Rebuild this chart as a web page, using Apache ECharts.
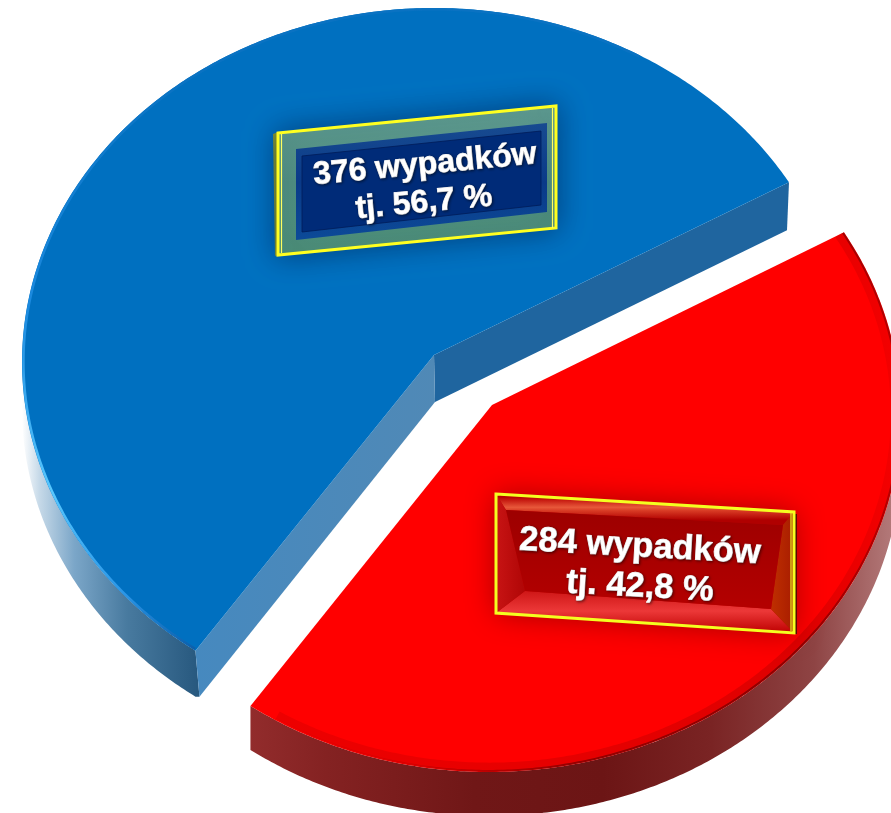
<!DOCTYPE html>
<html><head><meta charset="utf-8">
<style>html,body{margin:0;padding:0;background:#fff;overflow:hidden}#c{width:891px;height:813px}</style>
<script src="https://cdn.jsdelivr.net/npm/echarts@6/dist/echarts.min.js"></script>
</head><body><div id="c"></div>
<script>
// --- data ---
const categories = ['niebieski', 'czerwony'];
const accidents = [376, 284];
const percents = [56.7, 42.8];
const percentLabels = ['56,7', '42,8'];
const unit = 'wypadków';

// --- styling / projection of the tilted pie ---
const START_DEG = 30.5;
const RAD = Math.PI / 180;
const geo = [
  {cx: 434, cy: 362, rx: 412, ry: 354, ax: 434, ay: 355, depth: 46},
  {cx: 489, cy: 414, rx: 412, ry: 358, ax: 492, ay: 405, depth: 44}
];
const lin = (x, y, x2, y2, stops) => ({type: 'linear', x, y, x2, y2, global: true,
  colorStops: stops.map(s => ({offset: s[0], color: s[1]}))});

const ptsOn = (g, a0, a1, dy, k) => {
  const out = []; const n = Math.max(2, Math.ceil(Math.abs(a1 - a0) * 2));
  k = k === undefined ? 1 : k;
  for (let i = 0; i <= n; i++) {
    const a = (a0 + (a1 - a0) * i / n) * RAD;
    out.push([g.cx + g.rx * k * Math.cos(a), g.cy - g.ry * k * Math.sin(a) + (dy || 0)]);
  }
  return out;
};
const poly = (points, fill, extra) => ({type: 'polygon', shape: {points}, style: Object.assign({fill}, extra || {})});
const line = (points, stroke, lineWidth) => ({type: 'polyline', shape: {points}, style: {fill: null, stroke, lineWidth, lineJoin: 'round'}});
const txt = (text, x, y, deg, size) => ({type: 'text', x, y, rotation: deg * RAD, style: {
  text, x: 0, y: 0, align: 'center', verticalAlign: 'middle', fill: '#fff', stroke: '#fff', lineWidth: 0.9,
  font: 'bold ' + size + 'px "Liberation Sans", Arial, sans-serif',
  textShadowColor: 'rgba(0,0,0,0.5)', textShadowBlur: 3, textShadowOffsetX: 1, textShadowOffsetY: 1}});

function blueSlice(a0, a1, g, value, pct) {
  const corner0 = ptsOn(g, a0, a0)[0], corner1 = ptsOn(g, a1, a1)[0];
  const top = [[g.ax, g.ay]].concat(ptsOn(g, a0, a1));
  const d = g.depth;
  const wallTop = ptsOn(g, 172, a1), wallBot = ptsOn(g, 172, a1, d);
  const footL = [corner1[0] + 4, corner1[1] + d];
  wallBot.push(footL);
  return [
    poly(wallTop.concat(wallBot.slice().reverse()), lin(22, 0, 197, 0, [
      [0, '#ffffff'], [0.1, '#c6d9e8'], [0.3, '#7ba6c8'], [0.6, '#487a9f'], [1, '#28597f']])),
    poly([[g.ax, g.ay], corner0, [corner0[0] - 2, corner0[1] + 48], [g.ax + 1, g.ay + 47]], '#1f659f'),
    poly([[g.ax, g.ay], corner1, footL, [g.ax + 1, g.ay + 47]], lin(435, 0, 195, 0, [[0, '#5089b6'], [1, '#4689bf']])),
    poly(top, '#0070c0'),
    line(ptsOn(g, 60, a1 - 0.2, 0, 0.9965), lin(0, 80, 0, 652, [
      [0, '#0a72c2'], [0.4, '#1c8be0'], [0.72, '#58c8ff'], [0.9, '#2a95e6'], [1, '#0a5ca8']]), 2.5),
    // label box
    poly([[273, 134], [278, 132], [278, 255], [275, 256]], '#8a9a30'),
    poly([[278, 133], [556, 106], [556, 228], [278, 255]], lin(0, 110, 0, 255, [[0, '#5f9c90'], [0.5, '#4f8d80'], [1, '#4d9078']]),
      {stroke: '#ffff20', lineWidth: 3, shadowBlur: 30, shadowColor: 'rgba(0,20,60,0.5)'}),
    line([[552.5, 108], [552.5, 228]], '#ffff60', 1.2),
    line([[281.5, 134], [281.5, 253]], '#ffff60', 1.2),
    poly([[296, 149], [547, 123], [547, 212], [296, 240]], lin(0, 125, 0, 240, [[0, '#174a90'], [0.5, '#0a3a88'], [1, '#0c4a98']])),
    poly([[302, 156], [541, 131], [541, 205], [302, 232]], '#002b78', {stroke: '#001c58', lineWidth: 0.8}),
    txt(value + ' ' + unit, 425, 165, 5.4, 32),
    txt('tj. ' + pct + ' %', 424, 203, 5.4, 32)
  ];
}

function redSlice(a0, a1, g, value, pct) {
  const top = [[g.ax, g.ay]].concat(ptsOn(g, a0, a1));
  const wallTop = ptsOn(g, a0, 372), wallBot = ptsOn(g, a0, 372, g.depth);
  const rimFade = lin(240, 0, 900, 0, [[0, 'rgba(120,0,0,0)'], [0.25, 'rgba(120,0,0,0.2)'], [0.5, 'rgba(110,0,0,0.7)'], [0.85, 'rgba(100,0,0,0.7)'], [1, 'rgba(100,0,0,0.45)']]);
  const rimSoft = lin(240, 0, 900, 0, [[0, 'rgba(170,0,0,0.2)'], [0.4, 'rgba(170,0,0,0.28)'], [0.85, 'rgba(140,0,0,0.28)'], [1, 'rgba(130,0,0,0.08)']]);
  const O = [[496, 494], [794, 512], [794, 633], [496, 613]];
  const I = [[506, 510], [783, 525], [771, 609], [525, 591]];
  return [
    poly(wallTop.concat(wallBot.slice().reverse()), lin(250, 0, 891, 0, [
      [0, '#922c2c'], [0.12, '#842222'], [0.35, '#701717'], [0.55, '#6c1515'], [0.72, '#7a2424'], [0.88, '#8e4444'], [1, '#b27878']])),
    poly(top, '#ff0000'),
    line(ptsOn(g, a0 + 4, a1, 0, 0.985), rimSoft, 8),
    line(ptsOn(g, a0 + 4, a1, 0, 0.997), rimFade, 2),
    // label box
    poly(O, '#c40000', {shadowBlur: 30, shadowColor: 'rgba(90,0,0,0.55)'}),
    poly([O[0], O[1], I[1], I[0]], lin(0, 497, 0, 520, [[0, '#b80000'], [0.45, '#e8583a'], [0.6, '#d83a24'], [1, '#b00000']])),
    poly([O[3], O[2], I[2], I[3]], lin(0, 592, 0, 630, [[0, '#d01818'], [0.5, '#ec3838'], [1, '#c40808']])),
    poly([O[0], O[3], I[3], I[0]], lin(496, 0, 525, 0, [[0, '#c81414'], [1, '#b00606']])),
    poly([O[1], O[2], I[2], I[1]], lin(770, 0, 794, 0, [[0, '#c03000'], [1, '#a81c00']])),
    poly(I, lin(0, 515, 0, 605, [[0, '#9e0000'], [1, '#b30000']])),
    line([[796, 514], [796, 634]], '#301000', 1.6),
    poly(O, 'none', {stroke: '#f4ff20', lineWidth: 3}),
    line([[791, 513], [791, 631]], '#e8f020', 1.2),
    txt(value + ' ' + unit, 640, 547, -3.2, 34.5),
    txt('tj. ' + pct + ' %', 640, 587, -3.2, 34.5)
  ];
}

const chart = echarts.init(document.getElementById('c'));
chart.setOption({
  animation: false,
  backgroundColor: '#ffffff',
  series: [{
    type: 'custom',
    coordinateSystem: 'none',
    silent: true,
    data: categories.map((name, i) => ({name, value: accidents[i], share: percents[i]})),
    renderItem(params, api) {
      const i = params.dataIndex;
      // the blue slice takes its printed share; the red one closes the circle
      const split = START_DEG + percents[0] / 100 * 360;
      const a0 = i === 0 ? START_DEG : split;
      const a1 = i === 0 ? split : START_DEG + 360;
      const build = i === 0 ? blueSlice : redSlice;
      return {type: 'group', children: build(a0, a1, geo[i], api.value(0), percentLabels[i])};
    }
  }]
});
</script></body></html>
